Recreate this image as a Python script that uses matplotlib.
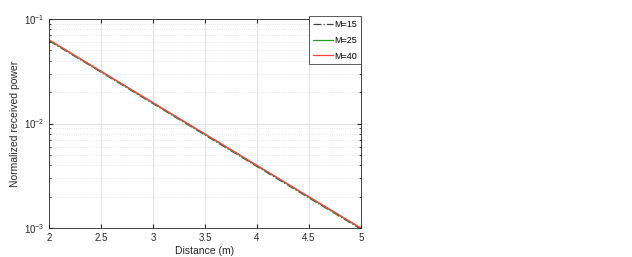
import matplotlib
matplotlib.use("Agg")
import matplotlib.pyplot as plt
from matplotlib.ticker import LogLocator, FixedLocator

plt.rcParams["font.family"] = ["Liberation Sans", "DejaVu Sans"]
plt.rcParams["mathtext.fontset"] = "custom"
plt.rcParams["mathtext.rm"] = "Liberation Sans"

distance = [2.0, 2.5, 3.0, 3.5, 4.0, 4.5, 5.0]
power_m15 = [0.0620, 0.0310, 0.01550, 0.00775, 0.00388, 0.00194, 0.000975]
power_m25 = [0.0628, 0.0314, 0.01570, 0.00786, 0.00394, 0.00197, 0.000990]
power_m40 = [0.0633, 0.0317, 0.01585, 0.00795, 0.00398, 0.00199, 0.001000]
labels = ["M=15", "M=25", "M=40"]

fig = plt.figure(figsize=(6.32, 2.57), dpi=100)
ax = fig.add_axes([49 / 632, 1 - 228 / 257, (361 - 49) / 632, (228 - 19) / 257])

ax.plot(distance, power_m15, color="#404040", linestyle="-.", linewidth=0.9, label=labels[0])
ax.plot(distance, power_m25, color="#22a022", linestyle="-", linewidth=0.9, label=labels[1])
ax.plot(distance, power_m40, color="#ff4040", linestyle="-", linewidth=0.9, label=labels[2])

ax.set_yscale("log")
ax.set_xlim(2, 5)
ax.set_ylim(1e-3, 1e-1)
ax.xaxis.set_major_locator(FixedLocator([2, 2.5, 3, 3.5, 4, 4.5, 5]))
ax.set_xticklabels(["2", "2.5", "3", "3.5", "4", "4.5", "5"])
ax.yaxis.set_major_locator(LogLocator(base=10, numticks=5))
ax.yaxis.set_minor_locator(LogLocator(base=10, subs=range(2, 10), numticks=20))
ax.yaxis.set_minor_formatter(plt.NullFormatter())

ax.grid(True, which="major", color="#e3e3e3", linewidth=0.8, linestyle="-")
ax.grid(True, which="minor", axis="y", color="#dcdcdc", linewidth=0.6, linestyle=":")
ax.set_axisbelow(True)

ax.tick_params(axis="both", which="both", direction="in", top=True, right=True,
               labelsize=7, colors="#262626", length=3)
ax.tick_params(axis="y", which="minor", length=1.5)
for s in ax.spines.values():
    s.set_color("#262626")
    s.set_linewidth(0.6)

ax.set_xlabel("Distance (m)", fontsize=7.5, color="#262626", labelpad=2)
ax.set_ylabel("Normalized received power", fontsize=7.5, color="#262626", labelpad=3)

leg = ax.legend(loc="upper right", bbox_to_anchor=(1.0, 1.012), fontsize=6.5, fancybox=False,
                framealpha=1, edgecolor="#404040", handlelength=2.2, borderpad=0.4,
                labelspacing=0.75, handletextpad=0.2, borderaxespad=0.0)
leg.get_frame().set_linewidth(0.6)

fig.savefig("out.png", dpi=100)
